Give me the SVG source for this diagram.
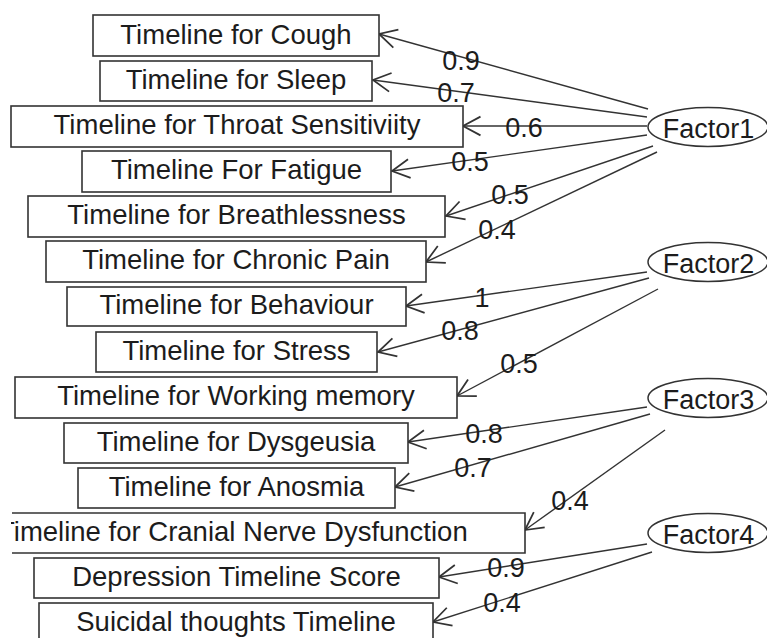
<svg xmlns="http://www.w3.org/2000/svg" width="767" height="638" viewBox="0 0 767 638">
<style>
.box{fill:#fff;stroke:#333;stroke-width:1.6}
.fac{fill:#fff;stroke:#333;stroke-width:1.5}
.t{font-family:"Liberation Sans",Arial,sans-serif;font-size:27.5px;fill:#1c1c1c;text-anchor:middle}
.lbl{font-family:"Liberation Sans",Arial,sans-serif;font-size:27px;fill:#1c1c1c;text-anchor:middle}
.edge{stroke:#333;stroke-width:1.4;fill:none;marker-end:url(#arr)}
</style>
<defs>
<marker id="arr" markerUnits="userSpaceOnUse" markerWidth="30" markerHeight="30" viewBox="-16 -12 20 24" refX="0" refY="0" orient="auto" overflow="visible">
<path d="M-14,-7.5 L0,0 L-14,7.5" fill="none" stroke="#333" stroke-width="1.4"/>
</marker>
<clipPath id="clipL"><rect x="11" y="500" width="600" height="70"/></clipPath>
</defs>
<rect width="767" height="638" fill="#fff"/>

<g id="connectors">
<line class="edge" x1="648" y1="109" x2="379" y2="34"/>
<line class="edge" x1="647" y1="117" x2="373" y2="80"/>
<line class="edge" x1="647" y1="126" x2="463" y2="126"/>
<line class="edge" x1="647" y1="135" x2="392" y2="171"/>
<line class="edge" x1="653" y1="146" x2="446" y2="216"/>
<line class="edge" x1="657" y1="152" x2="426" y2="262"/>
<line class="edge" x1="647" y1="272" x2="406" y2="306"/>
<line class="edge" x1="649" y1="278" x2="378" y2="352"/>
<line class="edge" x1="658" y1="289" x2="457" y2="396"/>
<line class="edge" x1="647" y1="407" x2="408" y2="442"/>
<line class="edge" x1="650" y1="414" x2="395" y2="487"/>
<line class="edge" x1="665" y1="430" x2="525" y2="530"/>
<line class="edge" x1="647" y1="544" x2="439" y2="577"/>
<line class="edge" x1="652" y1="552" x2="433" y2="622"/>
<text class="lbl" x="461" y="70">0.9</text>
<text class="lbl" x="456" y="101.5">0.7</text>
<text class="lbl" x="524" y="136.5">0.6</text>
<text class="lbl" x="470" y="171">0.5</text>
<text class="lbl" x="510" y="204">0.5</text>
<text class="lbl" x="497" y="239">0.4</text>
<text class="lbl" x="482" y="307">1</text>
<text class="lbl" x="460" y="340">0.8</text>
<text class="lbl" x="519" y="373">0.5</text>
<text class="lbl" x="484" y="443">0.8</text>
<text class="lbl" x="473" y="477">0.7</text>
<text class="lbl" x="570" y="510">0.4</text>
<text class="lbl" x="506" y="577">0.9</text>
<text class="lbl" x="502" y="612">0.4</text>
</g>

<g id="n_cough"><rect class="box" x="93" y="15" width="286" height="41"/><text class="t" x="236" y="43.5">Timeline for Cough</text></g>
<g id="n_sleep"><rect class="box" x="100" y="61" width="272" height="40"/><text class="t" x="236" y="88.5">Timeline for Sleep</text></g>
<g id="n_throat"><rect class="box" x="11" y="106" width="452" height="41"/><text class="t" x="237" y="133.5">Timeline for Throat Sensitiviity</text></g>
<g id="n_fatigue"><rect class="box" x="82" y="151" width="309" height="41"/><text class="t" x="236.5" y="179">Timeline For Fatigue</text></g>
<g id="n_breath"><rect class="box" x="28" y="196" width="417" height="41"/><text class="t" x="236.5" y="224">Timeline for Breathlessness</text></g>
<g id="n_pain"><rect class="box" x="46" y="241" width="380" height="41"/><text class="t" x="236" y="269">Timeline for Chronic Pain</text></g>
<g id="n_behaviour"><rect class="box" x="67" y="287" width="339" height="39"/><text class="t" x="236.5" y="314">Timeline for Behaviour</text></g>
<g id="n_stress"><rect class="box" x="96" y="332" width="281" height="40"/><text class="t" x="236.5" y="360">Timeline for Stress</text></g>
<g id="n_memory"><rect class="box" x="15" y="377" width="442" height="41"/><text class="t" x="236" y="405">Timeline for Working memory</text></g>
<g id="n_dysgeusia"><rect class="box" x="64" y="423" width="344" height="40"/><text class="t" x="236" y="451">Timeline for Dysgeusia</text></g>
<g id="n_anosmia"><rect class="box" x="78" y="468" width="317" height="40"/><text class="t" x="236.5" y="496">Timeline for Anosmia</text></g>
<g id="n_cranial"><path class="box" d="M12,513 H525 V553 H12"/><text class="t" x="-2" y="541" style="text-anchor:start" clip-path="url(#clipL)">Timeline for Cranial Nerve Dysfunction</text></g>
<g id="n_depression"><rect class="box" x="34" y="558" width="405" height="40"/><text class="t" x="236.5" y="586">Depression Timeline Score</text></g>
<g id="n_suicidal"><rect class="box" x="39" y="603" width="394" height="45"/><text class="t" x="236" y="631">Suicidal thoughts Timeline</text></g>

<g id="f1"><ellipse class="fac" cx="708" cy="127" rx="60" ry="19.5"/><text class="lbl" x="708.5" y="137.5">Factor1</text></g>
<g id="f2"><ellipse class="fac" cx="708" cy="262" rx="60" ry="19.5"/><text class="lbl" x="708.5" y="272.5">Factor2</text></g>
<g id="f3"><ellipse class="fac" cx="708" cy="398" rx="60" ry="19.5"/><text class="lbl" x="708.5" y="408.5">Factor3</text></g>
<g id="f4"><ellipse class="fac" cx="708" cy="533" rx="60" ry="19.5"/><text class="lbl" x="708.5" y="543.5">Factor4</text></g>
</svg>
